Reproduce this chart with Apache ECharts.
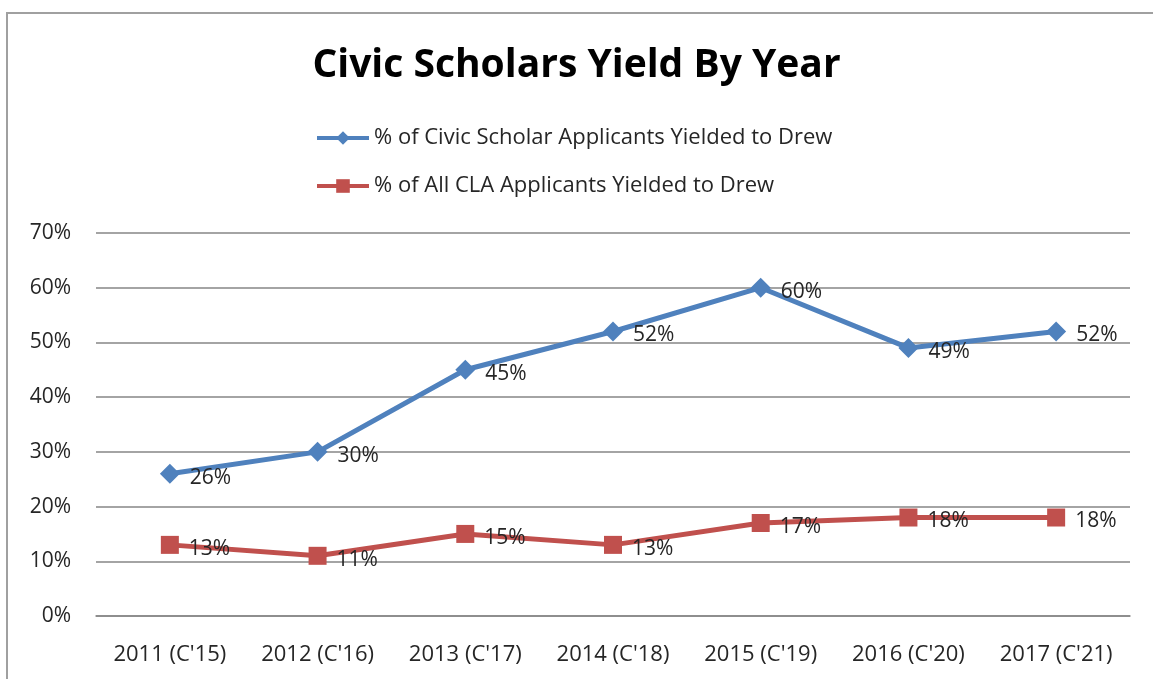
<!DOCTYPE html>
<html>
<head>
<meta charset="utf-8">
<script src="https://cdn.jsdelivr.net/npm/echarts@6/dist/echarts.min.js"></script>
<style>
html,body{margin:0;padding:0;background:#fff;}
#chart{width:1153px;height:679px;}
</style>
</head>
<body>
<div id="chart"></div>
<script>
const categories = ["2011 (C'15)", "2012 (C'16)", "2013 (C'17)", "2014 (C'18)", "2015 (C'19)", "2016 (C'20)", "2017 (C'21)"];
const civicScholars = [26, 30, 45, 52, 60, 49, 52];
const allCLA = [13, 11, 15, 13, 17, 18, 18];
const seriesNames = ["% of Civic Scholar Applicants Yielded to Drew", "% of All CLA Applicants Yielded to Drew"];
const titleText = "Civic Scholars Yield By Year";

const FONT = "'Open Sans', sans-serif";
const chart = echarts.init(document.getElementById('chart'));
const labelCfg = {
  show: true, position: 'right', distance: 10, offset: [0, 4],
  formatter: p => p.value + '%', color: '#262626', fontSize: 21, fontFamily: FONT
};
chart.setOption({
  animation: false,
  title: {
    text: titleText, left: 'center', top: 41,
    textStyle: { fontSize: 39, fontWeight: 'bold', color: '#000', fontFamily: FONT }
  },
  graphic: [{
    type: 'rect', shape: { x: 7, y: 13, width: 1200, height: 700 },
    style: { fill: 'none', stroke: '#a0a0a0', lineWidth: 2 }, silent: true
  }],
  legend: {
    orient: 'vertical', left: 310, top: 122, itemGap: 26,
    itemWidth: 52, itemHeight: 17,
    lineStyle: { width: 4 },
    textStyle: { fontSize: 22, color: '#262626', fontFamily: FONT }
  },
  grid: { left: 96, right: 23, top: 233, bottom: 63 },
  xAxis: {
    type: 'category', data: categories, boundaryGap: true,
    axisLine: { show: true, lineStyle: { color: '#868686', width: 1.5 } },
    axisTick: { show: false },
    axisLabel: { fontSize: 22, color: '#262626', fontFamily: FONT, margin: 28 }
  },
  yAxis: {
    type: 'value', min: 0, max: 70, interval: 10,
    axisLine: { show: false }, axisTick: { show: false },
    splitLine: { lineStyle: { color: '#868686', width: 1.5 } },
    axisLabel: { formatter: '{value}%', fontSize: 21, color: '#262626', fontFamily: FONT, margin: 25 }
  },
  series: [
    {
      name: seriesNames[0], type: 'line', data: civicScholars,
      symbol: 'diamond', symbolSize: 20,
      lineStyle: { color: '#4F81BD', width: 5 },
      itemStyle: { color: '#4F81BD' },
      label: labelCfg
    },
    {
      name: seriesNames[1], type: 'line', data: allCLA,
      symbol: 'rect', symbolSize: 18,
      lineStyle: { color: '#C0504D', width: 5 },
      itemStyle: { color: '#C0504D' },
      label: labelCfg
    }
  ]
});
</script>
</body>
</html>
